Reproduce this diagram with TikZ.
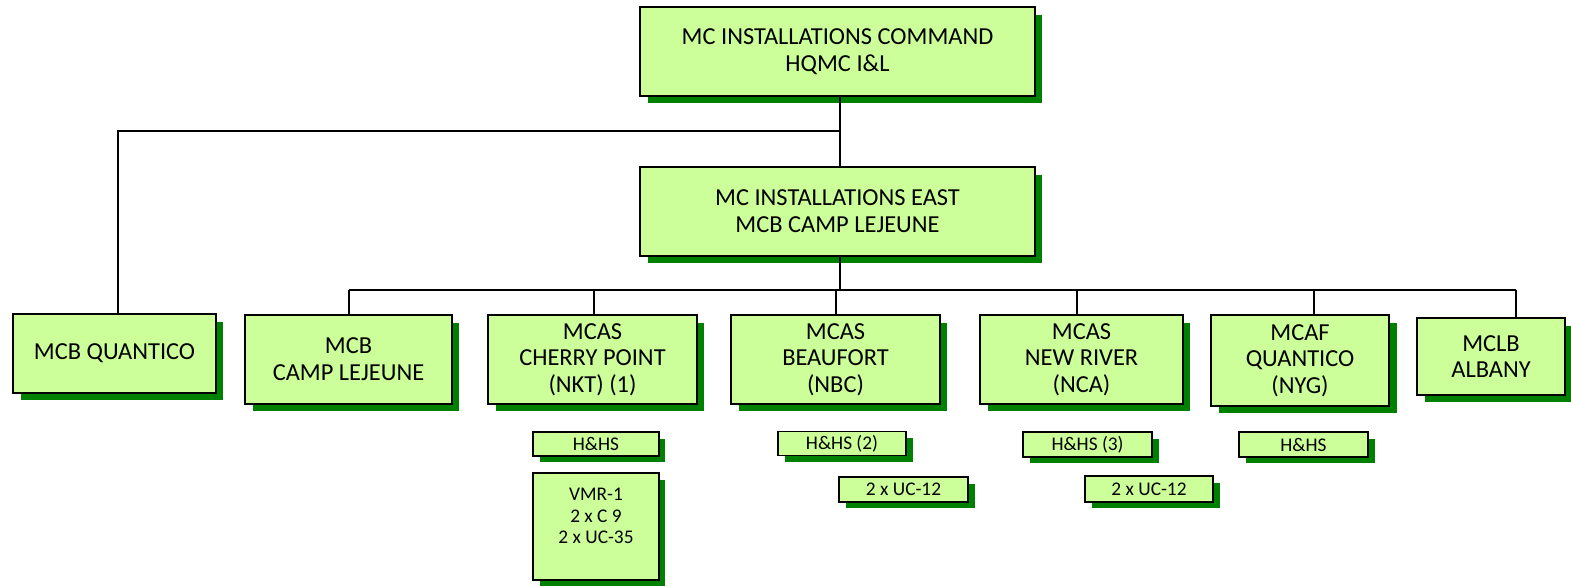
\documentclass[tikz,border=0pt]{standalone}
\usepackage{fontspec}
\setmainfont{Carlito}
\definecolor{PaleGreen}{RGB}{204, 255, 153}
\definecolor{ShadowGreen}{RGB}{0, 128, 0}
\usetikzlibrary{shadows}

\begin{document}
\begin{tikzpicture}[x=0.02cm, y=-0.02cm, line width=1pt,
    unitbox/.style={draw, line width=1.1pt, fill=PaleGreen, align=center, inner sep=1pt,
        font=\fontsize{13.9}{15.2}\selectfont,
        drop shadow={shadow xshift=0.15cm, shadow yshift=-0.15cm, fill=ShadowGreen, opacity=1}},
    subbox/.style={draw, line width=1.1pt, fill=PaleGreen, align=center, inner sep=1pt,
        font=\fontsize{11}{12.2}\selectfont,
        drop shadow={shadow xshift=0.13cm, shadow yshift=-0.13cm, fill=ShadowGreen, opacity=1}}]
    \useasboundingbox (0,0) rectangle (1571,587);
    % command level
    \node[unitbox, minimum width=7.9cm, minimum height=1.78cm] (cmd) at (837.5,51.5) {MC INSTALLATIONS COMMAND\\HQMC I\&L};
    \node[unitbox, minimum width=7.9cm, minimum height=1.78cm] (east) at (837.5,211.5) {MC INSTALLATIONS EAST\\MCB CAMP LEJEUNE};
    \node[unitbox, minimum width=4.06cm, minimum height=1.58cm] (mcbq) at (114.5,353.5) {MCB QUANTICO};
    % installations under the east
    \node[unitbox, minimum width=4.14cm, minimum height=1.78cm] (mcbcl) at (348.5,359.5) {MCB\\CAMP LEJEUNE};
    \node[unitbox, minimum width=4.18cm, minimum height=1.78cm] (nkt) at (592.5,359.5) {MCAS\\CHERRY POINT\\(NKT) (1)};
    \node[unitbox, minimum width=4.18cm, minimum height=1.78cm] (nbc) at (835.5,359.5) {MCAS\\BEAUFORT\\(NBC)};
    \node[unitbox, minimum width=4.06cm, minimum height=1.78cm] (nca) at (1081.5,359.5) {MCAS\\NEW RIVER\\(NCA)};
    \node[unitbox, minimum width=3.56cm, minimum height=1.82cm] (nyg) at (1300,360.5) {MCAF\\QUANTICO\\(NYG)};
    \node[unitbox, minimum width=2.96cm, minimum height=1.54cm] (mclb) at (1491,356.5) {MCLB\\ALBANY};
    % squadrons
    \node[subbox, minimum width=2.52cm, minimum height=0.48cm] (nkthhs) at (596,444) {H\&HS};
    \node[subbox, minimum width=2.52cm, minimum height=2.14cm] (vmr) at (596,526.5) {VMR-1\\2 x C 9\\2 x UC-35\\ \mbox{}};
    \node[subbox, minimum width=2.56cm, minimum height=0.48cm] (nbchhs) at (842,443.5) {H\&HS (2)};
    \node[subbox, minimum width=2.58cm, minimum height=0.5cm] (nbcuc) at (903.5,489.5) {2 x UC-12};
    \node[subbox, minimum width=2.58cm, minimum height=0.5cm] (ncahhs) at (1087.5,444.5) {H\&HS (3)};
    \node[subbox, minimum width=2.56cm, minimum height=0.52cm] (ncauc) at (1149,489) {2 x UC-12};
    \node[subbox, minimum width=2.58cm, minimum height=0.5cm] (nyghhs) at (1303.5,444.5) {H\&HS};
    % connectors
    \coordinate (cmdbus) at (840,131);
    \coordinate (eastbus) at (840,290);
    \draw (cmd.south -| cmdbus) -- (east.north -| cmdbus);
    \draw (cmdbus) -| (mcbq.north -| 118,0);
    \draw (east.south -| eastbus) -- (eastbus);
    \draw (349,290) -- (1516,290);
    \foreach \tx/\unit in {349/mcbcl, 594/nkt, 836/nbc, 1077/nca, 1314/nyg, 1516/mclb}
        \draw (\tx,290) -- (\unit.north -| \tx,0);
\end{tikzpicture}
\end{document}
